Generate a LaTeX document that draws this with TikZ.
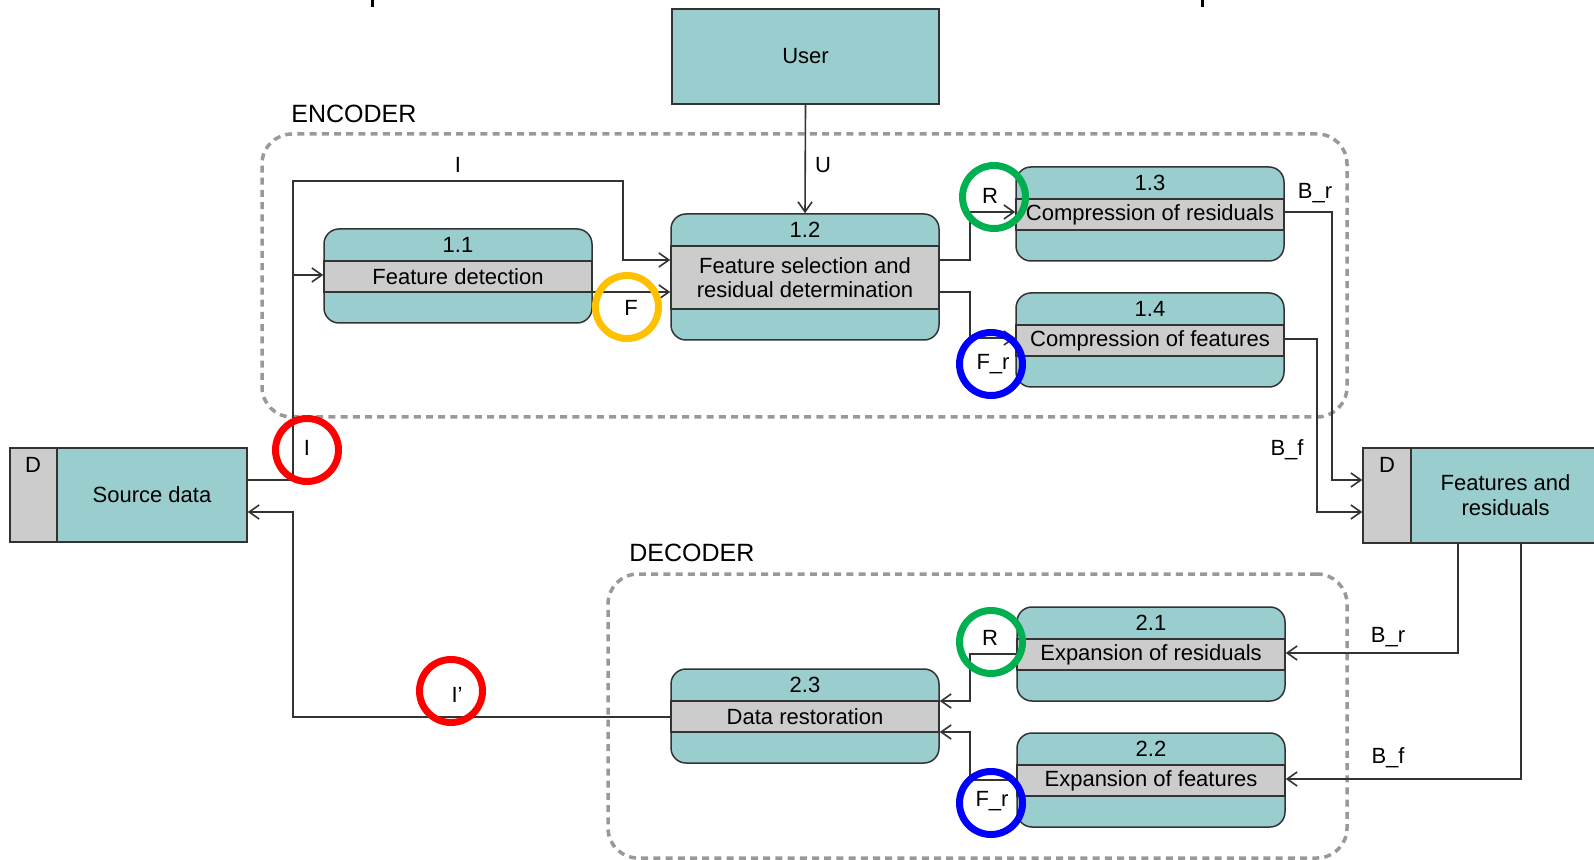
\documentclass[tikz,border=0pt]{standalone}
\usepackage{fontspec}
\setmainfont{Liberation Sans}
\usetikzlibrary{arrows.meta}
\definecolor{tealf}{RGB}{154,205,205}
\definecolor{bandf}{RGB}{204,204,204}
\definecolor{linec}{RGB}{51,51,51}
\definecolor{dashc}{RGB}{153,153,153}
\definecolor{cred}{RGB}{255,0,0}
\definecolor{cgreen}{RGB}{0,176,80}
\definecolor{cblue}{RGB}{0,0,255}
\definecolor{cyellow}{RGB}{255,192,0}
% #1 name, #2 left x, #3 top y, #4 number, #5 text, #6 band height (px)
\newcommand\pbox[6]{%
  \node[pbody, minimum height={(63+#6)*0.5pt}] (#1) at (#2+134, {#3+(63+#6)/2}) {};
  \node[pband, minimum height={#6*0.5pt}] (#1b) at (#2+134, {#3+32+#6/2}) {#5};
  \node[lab] (#1n) at (#2+134, #3+16) {#4};
}
\begin{document}
\begin{tikzpicture}[x=0.5pt,y=-0.5pt,
  lab/.style={font=\fontsize{11}{12}\selectfont, inner sep=0pt, text=black},
  biglab/.style={font=\fontsize{12.5}{14}\selectfont, inner sep=0pt, anchor=west},
  pbody/.style={rectangle, rounded corners=7.5pt, draw=linec, fill=tealf, line width=0.75pt, minimum width=134pt, inner sep=0pt},
  pband/.style={rectangle, draw=linec, fill=bandf, line width=0.75pt, minimum width=134pt, inner sep=0pt, align=center, font=\fontsize{11}{12}\selectfont},
  store/.style={rectangle, draw=linec, line width=0.75pt, inner sep=0pt, align=center, font=\fontsize{11}{12.5}\selectfont},
  dashbox/.style={rectangle, draw=dashc, line width=1.75pt, dash pattern=on 3.5pt off 2.6pt, rounded corners=15pt, inner sep=0pt},
  ring/.style={circle, draw=#1, line width=3.5pt, minimum size=31.5pt, inner sep=0pt},
  arr/.style={draw=linec, line width=0.8pt, -{Straight Barb[length=5pt,width=7pt]}},
  conn/.style={draw=linec, line width=0.8pt}
]
\useasboundingbox (0,0) rectangle (1594,860);
\clip (0,0) rectangle (1594,860);

% cut-off marks at the top edge
\draw[line width=1.5pt] (372,0) -- (372,7);
\draw[line width=1.5pt] (1202,0) -- (1202,7);

% group frames
\node[dashbox, minimum width=542.5pt, minimum height=141.5pt] (enc) at (804.5,275.5) {};
\node[dashbox, minimum width=369.5pt, minimum height=142pt] (dec) at (977.5,716) {};
\node[biglab] (enclab) at (291,114) {ENCODER};
\node[biglab] (declab) at (629,553) {DECODER};

% user
\node[store, fill=tealf, minimum width=133.5pt, minimum height=47.5pt] (user) at (805.5,56.5) {User};

% data stores
\node[store, fill=bandf, minimum width=23.5pt, minimum height=47pt] (srcd) at (33.5,495) {};
\node[store, fill=tealf, minimum width=95pt, minimum height=47pt] (src) at (152,495) {Source data};
\node[lab] (srcdl) at (33,465) {D};
\node[store, fill=bandf, minimum width=24pt, minimum height=47.5pt] (featd) at (1387,495.5) {};
\node[store, fill=tealf, minimum width=94.5pt, minimum height=47.5pt] (feat) at (1505.5,495.5) {Features and\\residuals};
\node[lab] (featdl) at (1387,465) {D};

% processes
\pbox{p11}{324}{229}{1.1}{Feature detection}{31}
\pbox{p12}{671}{214}{1.2}{Feature selection and\\residual determination}{63}
\pbox{p13}{1016}{167}{1.3}{Compression of residuals}{31}
\pbox{p14}{1016}{293}{1.4}{Compression of features}{31}
\pbox{p21}{1017}{607}{2.1}{Expansion of residuals}{31}
\pbox{p22}{1017}{733}{2.2}{Expansion of features}{31}
\pbox{p23}{671}{669}{2.3}{Data restoration}{31}

% connectors
\draw[arr] (src.east |- 0,480) -- (293,480) -- (293,181) -- (623,181) -- (623,260) -- (p12.west |- 0,260);
\draw[arr] (293,275) -- (p11.west |- 0,275);
\draw[arr] (p11.east |- 0,292) -- (p12.west |- 0,292);
\draw[arr] (user.south) -- (p12.north);
\draw[arr] (p12.east |- 0,260) -- (970,260) -- (970,212) -- (p13.west |- 0,212);
\draw[arr] (p12.east |- 0,292) -- (970,292) -- (970,338) -- (p14.west |- 0,338);
\draw[arr] (p13.east |- 0,212) -- (1332,212) -- (1332,480) -- (featd.west |- 0,480);
\draw[arr] (p14.east |- 0,339) -- (1317,339) -- (1317,512) -- (featd.west |- 0,512);
\draw[arr] (feat.south -| 1458,0) -- (1458,653) -- (p21.east |- 0,653);
\draw[arr] (feat.south -| 1521,0) -- (1521,779) -- (p22.east |- 0,779);
\draw[arr] (p21.west |- 0,654) -- (970,654) -- (970,701) -- (p23.east |- 0,701);
\draw[arr] (p22.west |- 0,780) -- (970,780) -- (970,732) -- (p23.east |- 0,732);
\draw[arr] (p23.west |- 0,717) -- (293,717) -- (293,512) -- (src.east |- 0,512);

% flow labels
\node[lab] (lI) at (458,165) {I};
\node[lab] (lU) at (823,165) {U};
\node[lab] (lBr1) at (1315,193) {B\_r};
\node[lab] (lBf1) at (1287,450) {B\_f};
\node[lab] (lBr2) at (1388,637) {B\_r};
\node[lab] (lBf2) at (1388,758) {B\_f};

% highlight rings
\node[ring=cyellow] (ry) at (627,307) {};
\node[lab] (ly) at (631,308) {F};
\node[ring=cgreen] (rg1) at (994,197) {};
\node[lab] (lg1) at (990,196) {R};
\node[ring=cblue] (rb1) at (991,364) {};
\node[lab] (lb1) at (993,364) {F\_r};
\node[ring=cred] (rr1) at (307,450) {};
\node[lab] (lr1) at (307,448) {I};
\node[ring=cgreen] (rg2) at (991,642) {};
\node[lab] (lg2) at (990,638) {R};
\node[ring=cblue] (rb2) at (991,803) {};
\node[lab] (lb2) at (992,801) {F\_r};
\node[ring=cred] (rr2) at (451,691) {};
\node[lab] (lr2) at (457,695) {I'};
\end{tikzpicture}
\end{document}
